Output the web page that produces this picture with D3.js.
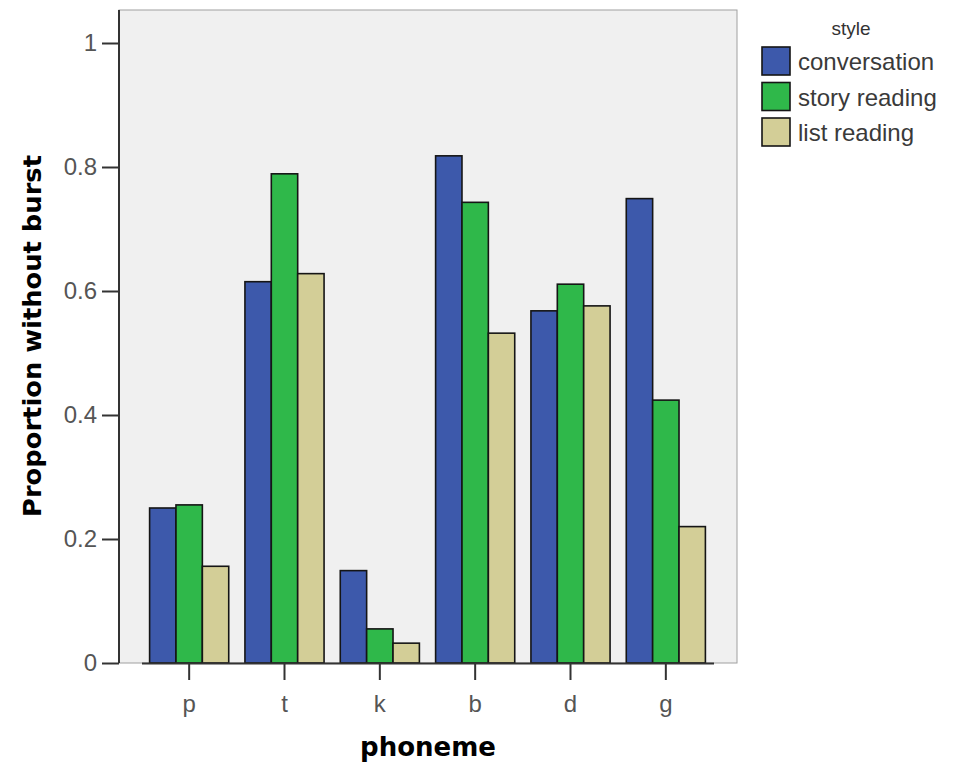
<!DOCTYPE html>
<html>
<head>
<meta charset="utf-8">
<script src="https://cdn.jsdelivr.net/npm/d3@7"></script>
<style>
  html, body { margin: 0; padding: 0; background: #ffffff; }
  svg { display: block; }
</style>
</head>
<body>
<svg id="chart" width="957" height="764"></svg>
<script>
// ---- data ----
const categories = ["p", "t", "k", "b", "d", "g"];
const seriesNames = ["conversation", "story reading", "list reading"];
const conversation = [0.25, 0.615, 0.149, 0.818, 0.568, 0.749];
const storyReading = [0.255, 0.789, 0.055, 0.743, 0.611, 0.424];
const listReading = [0.156, 0.628, 0.032, 0.532, 0.576, 0.22];
const yTicks = [0, 0.2, 0.4, 0.6, 0.8, 1];
const yTickLabels = ["0", "0.2", "0.4", "0.6", "0.8", "1"];
const colors = ["#3d59ab", "#2fb84a", "#d3ce97"];

const seriesValues = [conversation, storyReading, listReading];
const rows = categories.map((c, i) => ({
  cat: c,
  vals: seriesNames.map((s, j) => ({ series: s, idx: j, value: seriesValues[j][i] }))
}));

// ---- layout ----
const frame = { left: 119, right: 737, top: 10, bottom: 663 };
const svg = d3.select("#chart");

const y = d3.scaleLinear().domain([0, 1]).range([663, 43]);
const x0 = d3.scaleBand().domain(categories).range([141.5, 713.5])
  .paddingInner(0.17).paddingOuter(0.085);
const x1 = d3.scaleBand().domain(seriesNames).range([0, x0.bandwidth()]).padding(0);

// plot background
svg.append("rect")
  .attr("x", frame.left).attr("y", frame.top)
  .attr("width", frame.right - frame.left).attr("height", frame.bottom - frame.top)
  .attr("fill", "#f0f0f0").attr("stroke", "#a0a0a0").attr("stroke-width", 1);

// bars
const g = svg.append("g");
g.selectAll("g.grp").data(rows).join("g")
  .attr("class", "grp")
  .attr("transform", d => `translate(${x0(d.cat)},0)`)
  .selectAll("rect").data(d => d.vals).join("rect")
  .attr("x", d => x1(d.series))
  .attr("y", d => y(d.value))
  .attr("width", x1.bandwidth())
  .attr("height", d => y(0) - y(d.value))
  .attr("fill", d => colors[d.idx])
  .attr("stroke", "#151515").attr("stroke-width", 1.6);

// y axis
const yAxis = d3.axisLeft(y).tickValues(yTicks)
  .tickFormat((d, i) => yTickLabels[i]).tickSize(17).tickSizeOuter(0).tickPadding(5);
const ya = svg.append("g").attr("transform", `translate(${frame.left},0)`).call(yAxis);
ya.select(".domain").remove();
ya.selectAll(".tick line").attr("stroke", "#333").attr("stroke-width", 2);
ya.selectAll(".tick text")
  .attr("font-family", "'Liberation Sans', Arial, sans-serif")
  .attr("font-size", 24).attr("fill", "#555");
svg.append("line")
  .attr("x1", frame.left).attr("x2", frame.left)
  .attr("y1", frame.top).attr("y2", frame.bottom)
  .attr("stroke", "#333").attr("stroke-width", 2);

// x axis
const xAxis = d3.axisBottom(x0).tickSize(17).tickSizeOuter(0).tickPadding(15);
const xa = svg.append("g").attr("transform", `translate(0,${frame.bottom})`).call(xAxis);
xa.select(".domain").attr("stroke", "#333").attr("stroke-width", 2);
xa.selectAll(".tick line").attr("stroke", "#333").attr("stroke-width", 2);
xa.selectAll(".tick text")
  .attr("font-family", "'Liberation Sans', Arial, sans-serif")
  .attr("font-size", 24).attr("fill", "#555");

// axis titles
svg.append("text")
  .attr("transform", "translate(41,336) rotate(-90)")
  .attr("text-anchor", "middle")
  .attr("font-family", "'DejaVu Sans', sans-serif")
  .attr("font-weight", "bold").attr("font-size", 25.5)
  .attr("textLength", 362).attr("lengthAdjust", "spacingAndGlyphs")
  .attr("fill", "#000")
  .text("Proportion without burst");

svg.append("text")
  .attr("x", (frame.left + frame.right) / 2).attr("y", 756)
  .attr("text-anchor", "middle")
  .attr("font-family", "'DejaVu Sans', sans-serif")
  .attr("font-weight", "bold").attr("font-size", 26)
  .attr("fill", "#000")
  .text("phoneme");

// legend
const legend = svg.append("g");
legend.append("text")
  .attr("x", 851).attr("y", 35)
  .attr("text-anchor", "middle")
  .attr("font-family", "'Liberation Sans', Arial, sans-serif")
  .attr("font-size", 19).attr("fill", "#333")
  .text("style");
const li = legend.selectAll("g.item").data(seriesNames).join("g")
  .attr("class", "item")
  .attr("transform", (d, i) => `translate(762,${47 + i * 35.5})`);
li.append("rect")
  .attr("width", 28).attr("height", 28)
  .attr("fill", (d, i) => colors[i])
  .attr("stroke", "#151515").attr("stroke-width", 1.6);
li.append("text")
  .attr("x", 36).attr("y", 23)
  .attr("font-family", "'Liberation Sans', Arial, sans-serif")
  .attr("font-size", 24).attr("fill", "#3a3a3a")
  .text(d => d);
</script>
</body>
</html>
